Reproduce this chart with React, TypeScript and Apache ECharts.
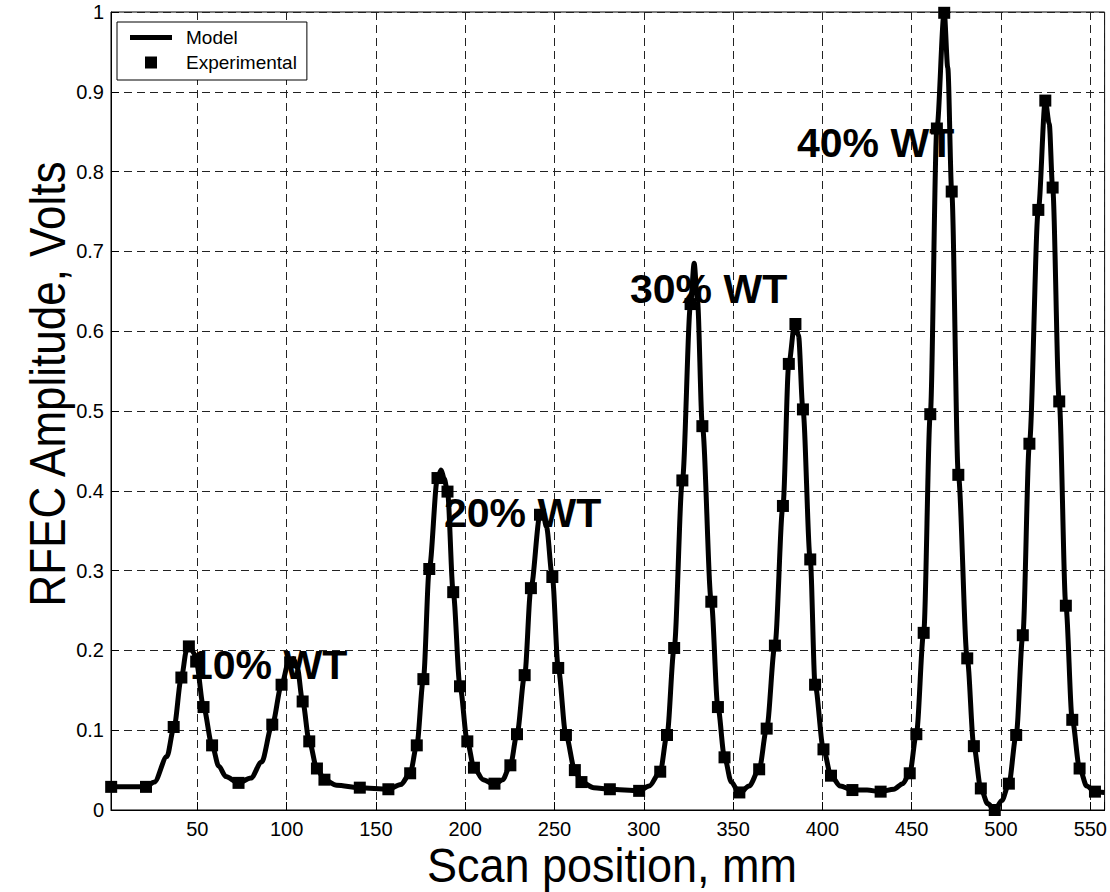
import React, { useEffect, useRef } from "react";
import * as echarts from "echarts";

// Scan position (mm) and RFEC amplitude (V) of the model curve
const modelPositions = [
  1.7, 21, 26, 33, 37, 41.1, 44, 45.7, 48, 49.4, 53.5, 58.3, 62, 66, 73, 80, 86, 92, 97.2, 101, 103.8, 106, 109,
  112.7, 117, 121.2, 128, 141, 157, 164, 169.2, 172.9, 176.6, 179.9, 184.5, 186.5, 188.3, 190.1, 193.3, 197.1,
  201.2, 204.9, 210, 216.4, 221, 225.3, 229, 233.3, 236.8, 241.9, 243.3, 245.5, 248.8, 252.1, 256.4, 261.4, 265.1,
  272, 281, 297.4, 303, 309.2, 313, 317, 321.6, 326.2, 328.2, 330, 332.8, 337.8, 341.5, 345.2, 349, 353.5, 359,
  364.6, 368.8, 373.4, 377.9, 381.2, 384.6, 386.6, 389.1, 393.2, 395.9, 400.6, 404.8, 410, 416.8, 425, 432.6, 440,
  445, 448.9, 452.6, 456.7, 460.4, 464.1, 468.2, 470.2, 472.4, 476.1, 481.1, 484.8, 488.7, 492.5, 496.5, 500.5,
  504.4, 508.5, 512.2, 515.9, 520.9, 524.8, 527, 528.9, 532.6, 536.3, 539.9, 544, 548, 552.6, 558,
];
const modelAmplitudes = [
  0.029, 0.029, 0.035, 0.067, 0.104, 0.166, 0.2, 0.207, 0.197, 0.186, 0.129, 0.081, 0.055, 0.042, 0.034, 0.04,
  0.06, 0.107, 0.157, 0.184, 0.19, 0.178, 0.136, 0.086, 0.052, 0.038, 0.031, 0.028, 0.026, 0.032, 0.046, 0.081,
  0.164, 0.302, 0.416, 0.426, 0.415, 0.399, 0.273, 0.155, 0.086, 0.053, 0.038, 0.032, 0.038, 0.056, 0.095, 0.169,
  0.278, 0.37, 0.375, 0.355, 0.292, 0.178, 0.094, 0.05, 0.035, 0.028, 0.026, 0.024, 0.03, 0.048, 0.094, 0.203,
  0.413, 0.634, 0.685, 0.64, 0.481, 0.261, 0.129, 0.066, 0.035, 0.021, 0.03, 0.051, 0.102, 0.206, 0.381, 0.559,
  0.612, 0.595, 0.502, 0.314, 0.157, 0.076, 0.043, 0.03, 0.025, 0.025, 0.023, 0.026, 0.033, 0.046, 0.095, 0.222,
  0.496, 0.854, 1.0, 0.93, 0.775, 0.42, 0.19, 0.08, 0.027, 0.008, 0.0, 0.012, 0.033, 0.094, 0.219, 0.459, 0.752,
  0.889, 0.86, 0.78, 0.512, 0.256, 0.113, 0.052, 0.03, 0.023, 0.022,
];

// Experimental measurements
const expPositions = [
  1.8, 21.3, 36.8, 41.1, 45.3, 49.4, 53.5, 58.3, 73.1, 92, 97.2, 102, 109, 112.7, 117, 121.2, 141, 157, 169.2,
  172.9, 176.6, 179.9, 184.5, 190.1, 193.3, 197.1, 201.2, 204.9, 216.4, 225.3, 229, 233.3, 236.8, 241.9, 248.8,
  252.1, 256.4, 261.4, 265.1, 281, 297.4, 309.2, 313, 317, 321.6, 326.2, 332.8, 337.8, 341.5, 345.2, 353.5, 364.6,
  368.8, 373.4, 377.9, 381.2, 384.9, 389.1, 393.2, 395.9, 400.6, 404.8, 416.8, 432.6, 448.9, 452.6, 456.7, 460.4,
  464.1, 468.2, 472.4, 476.1, 481.1, 484.8, 488.7, 496.5, 504.4, 508.5, 512.2, 515.9, 520.9, 524.8, 528.9, 532.6,
  536.3, 539.9, 544, 552.6,
];
const expAmplitudes = [
  0.029, 0.029, 0.104, 0.166, 0.205, 0.186, 0.129, 0.081, 0.034, 0.107, 0.157, 0.185, 0.136, 0.086, 0.052, 0.038,
  0.028, 0.026, 0.046, 0.081, 0.164, 0.302, 0.416, 0.399, 0.273, 0.155, 0.086, 0.053, 0.033, 0.056, 0.095, 0.169,
  0.278, 0.37, 0.292, 0.178, 0.094, 0.05, 0.035, 0.026, 0.024, 0.048, 0.094, 0.203, 0.413, 0.634, 0.481, 0.261,
  0.129, 0.066, 0.022, 0.051, 0.102, 0.206, 0.381, 0.559, 0.609, 0.502, 0.314, 0.157, 0.076, 0.043, 0.025, 0.023,
  0.046, 0.095, 0.222, 0.496, 0.854, 0.999, 0.775, 0.42, 0.19, 0.08, 0.027, 0.0, 0.033, 0.094, 0.219, 0.459, 0.752,
  0.889, 0.78, 0.512, 0.256, 0.113, 0.052, 0.023,
];

const seriesNames = ["Model", "Experimental"];
const defectLabels = ["10% WT", "20% WT", "30% WT", "40% WT"];
const xAxisTitle = "Scan position, mm";
const yAxisTitle = "RFEC Amplitude, Volts";

const FONT = "'Liberation Sans', Arial, Helvetica, sans-serif";

export default function App() {
  const ref = useRef<HTMLDivElement>(null);

  useEffect(() => {
    if (!ref.current) return;
    const chart = echarts.init(ref.current, undefined, { renderer: "svg" });

    const modelData = modelPositions.map((x, i) => [x, modelAmplitudes[i]]);
    const expData = expPositions.map((x, i) => [x, expAmplitudes[i]]);

    const labelPos = [
      { x: 190, y: 665 },
      { x: 444, y: 513 },
      { x: 630, y: 289 },
      { x: 797, y: 143 },
    ];

    chart.setOption({
      animation: false,
      backgroundColor: "#ffffff",
      grid: {
        left: 111,
        top: 12,
        right: -3,
        bottom: 82,
        show: true,
        borderColor: "#000",
        borderWidth: 1,
        backgroundColor: "transparent",
      },
      legend: {
        data: [
          { name: seriesNames[0], icon: "path://M0,0H42V5H0Z" },
          { name: seriesNames[1], icon: "path://M0,0H12V12H0Z" },
        ],
        orient: "vertical",
        left: 117,
        top: 22,
        padding: [6, 10, 8, 13],
        itemGap: 6,
        itemWidth: 42,
        itemHeight: 12,
        symbolKeepAspect: true,
        backgroundColor: "#fff",
        borderColor: "#000",
        borderWidth: 1,
        borderRadius: 0,
        textStyle: { fontFamily: FONT, fontSize: 19, color: "#000", padding: [0, 0, 0, 9] },
      },
      xAxis: {
        type: "value",
        min: 1.7,
        max: 558,
        splitNumber: 11,
        axisLine: { show: true, lineStyle: { color: "#000", width: 1 } },
        axisTick: { show: true, inside: true, length: 8, lineStyle: { color: "#000" } },
        axisLabel: {
          show: true,
          margin: 9,
          color: "#000",
          fontFamily: FONT,
          fontSize: 20,
          showMinLabel: true,
          showMaxLabel: true,
          formatter: (v: number) => (v > 0 && Math.abs(v % 50) < 1e-6 ? String(v) : ""),
        },
        splitLine: { show: true, lineStyle: { color: "#222", width: 1, type: [8, 5] } },
      },
      yAxis: {
        type: "value",
        min: 0,
        max: 1,
        interval: 0.1,
        axisLine: { show: true, lineStyle: { color: "#000", width: 1 } },
        axisTick: { show: true, inside: true, length: 8, lineStyle: { color: "#000" } },
        axisLabel: { margin: 7, color: "#000", fontFamily: FONT, fontSize: 20 },
        splitLine: { show: true, lineStyle: { color: "#222", width: 1, type: [8, 5] } },
      },
      graphic: [
        ...defectLabels.map((t, i) => ({
          type: "text",
          x: labelPos[i].x,
          y: labelPos[i].y,
          z: 1,
          style: {
            text: t,
            font: `bold 41px ${FONT}`,
            fill: "#000",
            align: "left",
            verticalAlign: "middle",
          },
        })),
        {
          type: "text",
          x: 612,
          y: 865,
          scaleY: 1.08,
          style: {
            text: xAxisTitle,
            font: `45px ${FONT}`,
            fill: "#000",
            align: "center",
            verticalAlign: "middle",
          },
        },
        {
          type: "text",
          x: 48,
          y: 384,
          rotation: Math.PI / 2,
          scaleY: 1.12,
          style: {
            text: yAxisTitle,
            font: `44px ${FONT}`,
            fill: "#000",
            align: "center",
            verticalAlign: "middle",
          },
        },
      ],
      series: [
        {
          name: seriesNames[0],
          type: "line",
          data: modelData,
          showSymbol: false,
          symbol: "none",
          smooth: 0.3,
          smoothMonotone: "x",
          lineStyle: { color: "#000", width: 5 },
          itemStyle: { color: "#000" },
          z: 3,
        },
        {
          name: seriesNames[1],
          type: "scatter",
          data: expData,
          symbol: "rect",
          symbolSize: 12,
          itemStyle: { color: "#000", opacity: 1 },
          z: 4,
        },
      ],
    });

    return () => chart.dispose();
  }, []);

  return (
    <div
      ref={ref}
      style={{ position: "fixed", left: 0, top: 0, width: 1110, height: 892, background: "#fff" }}
    />
  );
}
